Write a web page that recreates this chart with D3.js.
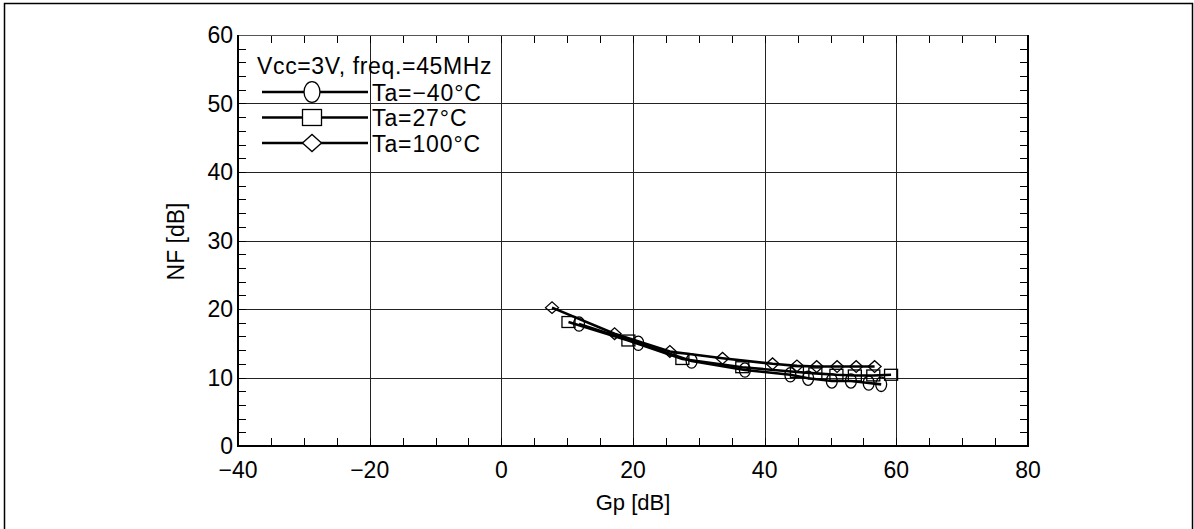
<!DOCTYPE html>
<html>
<head>
<meta charset="utf-8">
<script src="https://cdn.jsdelivr.net/npm/d3@7"></script>
<style>
  body { margin: 0; background: #fff; }
  svg text { font-family: "Liberation Sans", Arial, sans-serif; fill: #000; }
</style>
</head>
<body>
<svg id="chart"></svg>
<script>
// Gp [dB] / NF [dB] pairs
const ta_m40 = [[11.8,17.8],[20.8,15.0],[28.9,12.4],[37.0,11.1],[43.9,10.4],[46.6,9.9],[50.2,9.5],[53.1,9.5],[55.8,9.2],[57.7,9.0]];
const ta_27 = [[10.2,18.1],[19.3,15.4],[27.5,12.7],[36.6,11.5],[44.9,10.8],[47.7,10.6],[50.9,10.4],[53.7,10.3],[56.5,10.3],[59.2,10.4]];
const ta_100 = [[7.7,20.2],[17.2,16.4],[25.6,13.8],[33.6,12.8],[41.2,12.0],[44.9,11.7],[47.9,11.6],[51.0,11.6],[53.9,11.6],[56.7,11.6]];

const series_names = ["Ta=\u221240\u00b0C", "Ta=27\u00b0C", "Ta=100\u00b0C"];
const series_shapes = ["circle", "square", "diamond"];
const legend_title = "Vcc=3V, freq.=45MHz";

const x_ticks = [-40, -20, 0, 20, 40, 60, 80];
const y_ticks = [0, 10, 20, 30, 40, 50, 60];
const axes_label = {x: "Gp [dB]", y: "NF [dB]"};

const svg_size = {width: 1194, height: 529};
const plot_margin = {top: 35, right: 166, bottom: 83, left: 238};
const plot_width = svg_size.width - plot_margin.left - plot_margin.right;
const plot_height = svg_size.height - plot_margin.top - plot_margin.bottom;

const svg = d3.select("#chart")
    .attr("width", svg_size.width)
    .attr("height", svg_size.height);

svg.append("rect")
    .attr("x", 4.5).attr("y", 3.5)
    .attr("width", 1188).attr("height", 540)
    .attr("fill", "none").attr("stroke", "#000").attr("stroke-width", 1.5);

const plot = svg.append("g")
    .attr("transform", `translate(${plot_margin.left},${plot_margin.top})`);

const x = d3.scaleLinear().domain([-40, 80]).range([0, plot_width]);
const y = d3.scaleLinear().domain([0, 60]).range([plot_height, 0]);

// grid
plot.append("g").selectAll("line")
    .data(x_ticks.slice(1, -1))
    .enter().append("line")
    .attr("x1", d => Math.round(x(d)) + 0.5).attr("x2", d => Math.round(x(d)) + 0.5)
    .attr("y1", 0).attr("y2", plot_height)
    .attr("stroke", "#222").attr("stroke-width", 1);
plot.append("g").selectAll("line")
    .data(y_ticks.slice(1, -1))
    .enter().append("line")
    .attr("y1", d => Math.round(y(d)) + 0.5).attr("y2", d => Math.round(y(d)) + 0.5)
    .attr("x1", 0).attr("x2", plot_width)
    .attr("stroke", "#222").attr("stroke-width", 1);

// minor ticks, inside on all four sides
const tick_len = 8;
const x_minor = d3.range(-35, 80, 5);
const y_minor = d3.range(2, 60, 2);
const ticks = plot.append("g").attr("stroke", "#000").attr("stroke-width", 1);
x_minor.forEach(v => {
    const px = Math.round(x(v)) + 0.5;
    ticks.append("line").attr("x1", px).attr("x2", px).attr("y1", plot_height).attr("y2", plot_height - tick_len);
    ticks.append("line").attr("x1", px).attr("x2", px).attr("y1", 0).attr("y2", tick_len);
});
y_minor.forEach(v => {
    const py = Math.round(y(v)) + 0.5;
    ticks.append("line").attr("y1", py).attr("y2", py).attr("x1", 0).attr("x2", tick_len);
    ticks.append("line").attr("y1", py).attr("y2", py).attr("x1", plot_width).attr("x2", plot_width - tick_len);
});

// frame
plot.append("line").attr("x1", 0).attr("x2", plot_width).attr("y1", 0.5).attr("y2", 0.5)
    .attr("stroke", "#555").attr("stroke-width", 1);
plot.append("path")
    .attr("d", `M0,0V${plot_height}H${plot_width}V0`)
    .attr("fill", "none").attr("stroke", "#000").attr("stroke-width", 2);

// tick labels
const fmt = d3.format("d");
plot.append("g").selectAll("text")
    .data(x_ticks)
    .enter().append("text")
    .attr("x", d => x(d))
    .attr("y", plot_height + 32)
    .attr("text-anchor", "middle")
    .attr("font-size", 23)
    .text(d => fmt(d));
plot.append("g").selectAll("text")
    .data(y_ticks)
    .enter().append("text")
    .attr("x", -5)
    .attr("y", d => y(d))
    .attr("dy", "0.35em")
    .attr("text-anchor", "end")
    .attr("font-size", 23)
    .text(d => fmt(d));

// axis titles
plot.append("text")
    .attr("x", plot_width / 2)
    .attr("y", plot_height + 64)
    .attr("text-anchor", "middle")
    .attr("font-size", 22)
    .text(axes_label.x);
plot.append("text")
    .attr("transform", `translate(-54,${plot_height / 2 + 1}) rotate(-90)`)
    .attr("text-anchor", "middle")
    .attr("font-size", 23)
    .text(axes_label.y);

// markers
function marker(g, shape, cx, cy, s, fill) {
    if (shape === "circle") {
        g.append("ellipse").attr("cx", cx).attr("cy", cy).attr("rx", s * 0.42).attr("ry", s * 0.55)
            .attr("fill", fill).attr("stroke", "#000").attr("stroke-width", 1.3);
    } else if (shape === "square") {
        g.append("rect").attr("x", cx - s / 2).attr("y", cy - s * 0.42).attr("width", s).attr("height", s * 0.84)
            .attr("fill", fill).attr("stroke", "#000").attr("stroke-width", 1.3);
    } else {
        const h = s * 0.5, v = s * 0.45;
        g.append("path").attr("d", `M${cx - h},${cy}L${cx},${cy - v}L${cx + h},${cy}L${cx},${cy + v}Z`)
            .attr("fill", fill).attr("stroke", "#000").attr("stroke-width", 1.3);
    }
}

const line = d3.line().x(d => x(d[0])).y(d => y(d[1]));
const all_series = [ta_m40, ta_27, ta_100];
all_series.forEach((data, i) => {
    plot.append("path").datum(data)
        .attr("d", line)
        .attr("fill", "none").attr("stroke", "#000").attr("stroke-width", 2.6);
});
all_series.forEach((data, i) => {
    const g = plot.append("g");
    data.forEach(d => marker(g, series_shapes[i], x(d[0]), y(d[1]), 13, "none"));
});

// legend
const legend = svg.append("g");
legend.append("text")
    .attr("x", 257).attr("y", 74)
    .attr("font-size", 23)
    .attr("letter-spacing", 0.65)
    .text(legend_title);
series_names.forEach((name, i) => {
    const ly = 92 + i * 25.5;
    legend.append("line").attr("x1", 262).attr("x2", 368).attr("y1", ly).attr("y2", ly)
        .attr("stroke", "#000").attr("stroke-width", 2.6);
    marker(legend, series_shapes[i], 312, ly, 19, "#fff");
    legend.append("text")
        .attr("x", 372).attr("y", ly + 8.5)
        .attr("font-size", 23)
        .attr("letter-spacing", 0.9)
        .text(name);
});
</script>
</body>
</html>
